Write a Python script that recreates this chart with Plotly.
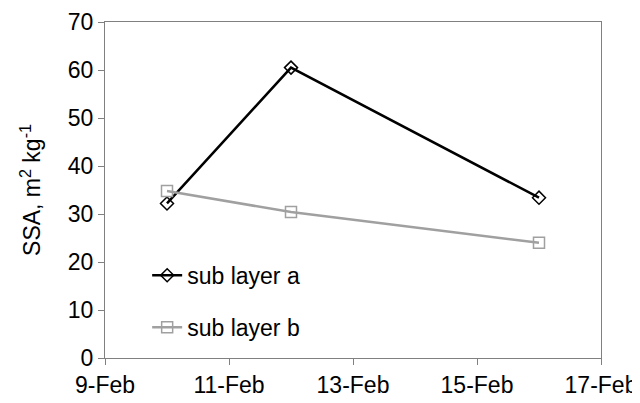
import plotly.graph_objects as go

dates = ["2000-02-10", "2000-02-12", "2000-02-16"]
series_a = [32.2, 60.5, 33.4]
series_b = [34.8, 30.4, 24.0]
name_a = "sub layer a"
name_b = "sub layer b"
y_ticks = [0, 10, 20, 30, 40, 50, 60, 70]

font = "Liberation Sans, Arial, sans-serif"

fig = go.Figure()
fig.add_trace(go.Scatter(
    x=dates, y=series_a, name=name_a, mode="lines+markers",
    line=dict(color="black", width=2.5),
    marker=dict(symbol="diamond-open", size=10, color="black", line=dict(width=1.5)),
    legendgroup="a", legendrank=1,
))
fig.add_trace(go.Scatter(
    x=dates, y=series_b, name=name_b, mode="lines+markers",
    line=dict(color="#a0a0a0", width=2.5),
    marker=dict(symbol="square-open", size=11, color="#a0a0a0", line=dict(width=1.5)),
    legendgroup="b", legendrank=2,
))

# the page body has an 8px margin, so the figure is sized and offset for it
fig.update_layout(
    width=632, height=395,
    margin=dict(l=97, r=39, t=14, b=45, autoexpand=False),
    paper_bgcolor="white", plot_bgcolor="white",
    font=dict(family=font, size=23, color="black"),
    showlegend=True,
    legend=dict(x=0.085, y=0.31, xanchor="left", yanchor="top",
                traceorder="grouped", tracegroupgap=19,
                bgcolor="rgba(0,0,0,0)", font=dict(size=23)),
    xaxis=dict(
        type="date", range=["2000-02-09", "2000-02-17"],
        tick0="2000-02-09", dtick=2 * 86400000, tickformat="%-d-%b",
        ticks="outside", ticklen=6, tickcolor="#808080",
        showline=True, linecolor="#808080", linewidth=1, mirror=True,
        showgrid=False, zeroline=False, tickfont=dict(size=23),
        automargin=False,
    ),
    yaxis=dict(
        range=[0, 70], tickvals=y_ticks,
        ticks="outside", ticklen=6, tickcolor="#808080",
        showline=True, linecolor="#808080", linewidth=1, mirror=True,
        showgrid=False, zeroline=False, tickfont=dict(size=23),
        automargin=False,
        title=dict(text="SSA, m<sup>2</sup> kg<sup>-1</sup>", font=dict(size=23), standoff=20),
    ),
)

fig.write_html("out.html")
